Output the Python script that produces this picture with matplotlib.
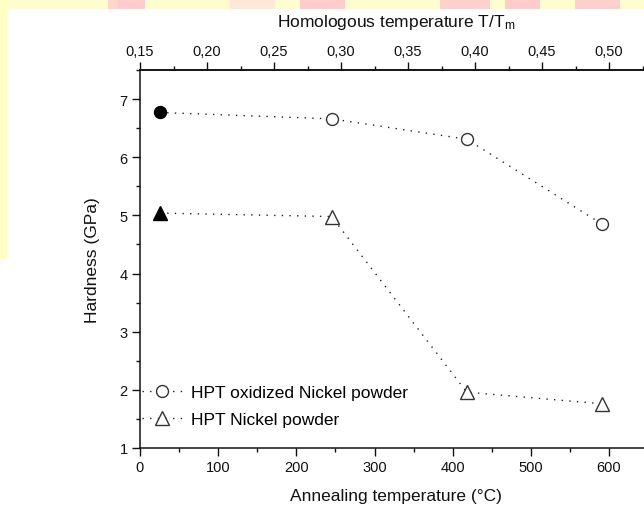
import matplotlib
matplotlib.use("Agg")
import matplotlib.pyplot as plt
from matplotlib.patches import Rectangle
from matplotlib.ticker import MultipleLocator, FuncFormatter
from matplotlib.lines import Line2D

plt.rcParams['font.family'] = ['Liberation Sans', 'DejaVu Sans']
plt.rcParams['mathtext.fontset'] = 'custom'
plt.rcParams['mathtext.rm'] = 'Liberation Sans'
plt.rcParams['mathtext.it'] = 'Liberation Sans'

# Data
temp_oxid = [25, 245, 418, 591]
hard_oxid = [6.77, 6.66, 6.31, 4.85]
temp_ni = [25, 245, 418, 591]
hard_ni = [5.04, 4.98, 1.96, 1.76]
labels = ["HPT oxidized Nickel powder", "HPT Nickel powder"]
top_ticks = [0.15, 0.20, 0.25, 0.30, 0.35, 0.40, 0.45, 0.50]

W, H = 644, 506
fig = plt.figure(figsize=(W / 100, H / 100), dpi=100)

# watermark-like background strips
fig.patches.append(Rectangle((0, 1 - 9.5 / H), 1, 9.5 / H, transform=fig.transFigure,
                             facecolor='#fffdd0', edgecolor='none', zorder=0))
fig.patches.append(Rectangle((0, 1 - 260 / H), 7 / W, 260 / H, transform=fig.transFigure,
                             facecolor='#ffffc4', edgecolor='none', zorder=0))
for x0, x1, c in [(108, 118, '#ffd6cc'), (118, 145, '#ffcccc'), (230, 275, '#ffe8d8'),
                  (300, 345, '#ffcccc'), (440, 490, '#ffd0cc'), (505, 540, '#ffcccc'),
                  (575, 620, '#ffd0cc')]:
    fig.patches.append(Rectangle((x0 / W, 1 - 9.5 / H), (x1 - x0) / W, 9.5 / H,
                                 transform=fig.transFigure, facecolor=c,
                                 edgecolor='none', zorder=0))

ax = fig.add_axes([140 / W, 57 / H, 512 / W, 378 / H])
ax.set_facecolor('none')
ax.set_xlim(0, 655)
ax.set_ylim(1, 7.5)

ls = (0, (1, 4.5))
col = '#222222'
ax.plot(temp_oxid, hard_oxid, linestyle=ls, color=col, lw=1.0, zorder=2)
ax.plot(temp_ni, hard_ni, linestyle=ls, color=col, lw=1.0, zorder=2)
ax.plot(temp_oxid[1:], hard_oxid[1:], 'o', ms=8.6, mfc='white', mec='#333333', mew=1.0, zorder=3)
ax.plot(temp_oxid[:1], hard_oxid[:1], 'o', ms=8.6, mfc='black', mec='black', zorder=3)
ax.plot(temp_ni[1:], hard_ni[1:], '^', ms=9.5, mfc='white', mec='#333333', mew=1.0, zorder=3)
ax.plot(temp_ni[:1], hard_ni[:1], '^', ms=9.5, mfc='black', mec='black', zorder=3)

for s in ['left', 'top', 'bottom']:
    ax.spines[s].set_linewidth(1.1)
    ax.spines[s].set_color('#111111')
ax.spines['right'].set_visible(False)

ax.xaxis.set_major_locator(MultipleLocator(100))
ax.xaxis.set_minor_locator(MultipleLocator(50))
ax.yaxis.set_major_locator(MultipleLocator(1))
ax.yaxis.set_minor_locator(MultipleLocator(0.5))
ax.tick_params(which='major', direction='out', length=5.8, width=1.0, labelsize=10.5,
               pad=3, colors='#111111')
ax.tick_params(which='minor', direction='out', length=2.9, width=1.0, colors='#111111')
ax.tick_params(axis='x', top=False)
ax.tick_params(axis='y', right=False)

ax.set_xlabel("Annealing temperature (°C)", fontsize=12.5, labelpad=10, color='#111111')
ax.set_ylabel("Hardness (GPa)", fontsize=12.5, labelpad=14, color='#111111')

f = lambda x: 0.15 + x * 0.35 / 600
finv = lambda t: (t - 0.15) * 600 / 0.35
sec = ax.secondary_xaxis('top', functions=(f, finv))
sec.set_xticks(top_ticks)
sec.xaxis.set_minor_locator(MultipleLocator(0.025))
sec.xaxis.set_major_formatter(FuncFormatter(lambda v, p: f"{v:.2f}".replace('.', ',')))
sec.tick_params(which='major', direction='out', length=5.8, width=1.0, labelsize=10.5,
                pad=3, colors='#111111')
sec.tick_params(which='minor', direction='out', length=2.9, width=1.0, colors='#111111')
sec.spines['top'].set_linewidth(1.1)
sec.set_xlabel(r"Homologous temperature T/T$_{\mathrm{m}}$", fontsize=12.5, labelpad=13,
               color='#111111')

handles = [Line2D([], [], linestyle=ls, color=col, lw=1.0, marker='o', ms=8.6,
                  mfc='white', mec='#333333'),
           Line2D([], [], linestyle=ls, color=col, lw=1.0, marker='^', ms=9.5,
                  mfc='white', mec='#333333')]
ax.legend(handles, labels, loc='upper left', bbox_to_anchor=(142 / W, 1 - 386 / H),
          bbox_transform=fig.transFigure, frameon=False, fontsize=12.5,
          handlelength=2.3, handletextpad=0.55, borderpad=0, borderaxespad=0,
          labelspacing=0.65, markerscale=1.0)

fig.savefig("out.png", dpi=100)
